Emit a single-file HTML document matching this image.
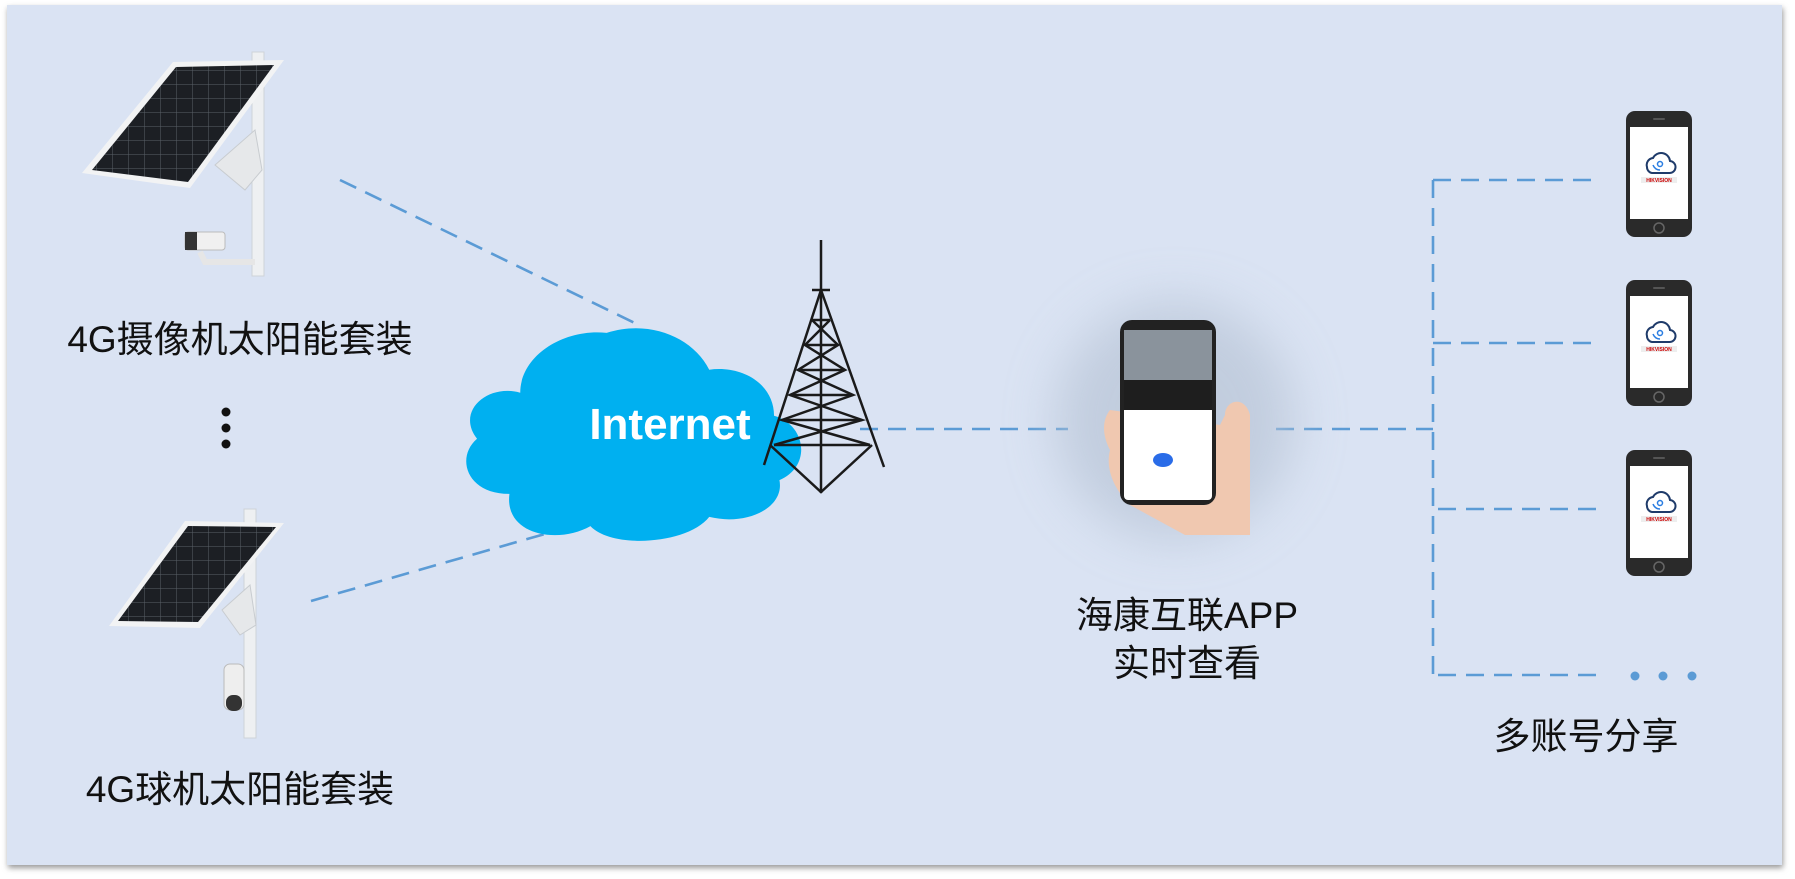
<!DOCTYPE html>
<html><head><meta charset="utf-8"><style>
html,body{margin:0;padding:0;background:#fff;}
svg{display:block;}
text{font-family:"Liberation Sans","Noto Sans CJK SC",sans-serif;}
</style></head><body>
<svg width="1795" height="879" viewBox="0 0 1795 879" xmlns="http://www.w3.org/2000/svg">
<defs>
<filter id="sh" x="-5%" y="-5%" width="110%" height="110%"><feGaussianBlur stdDeviation="3"/></filter>
<filter id="bl" x="-50%" y="-50%" width="200%" height="200%"><feGaussianBlur stdDeviation="25"/></filter>
<pattern id="cell" width="16" height="14" patternUnits="userSpaceOnUse"><rect width="16" height="14" fill="#1c1f24"/><path d="M0 0H16M0 0V14" stroke="#5a6068" stroke-width="1"/></pattern>
<g id="ph">
<rect x="0" y="0" width="66" height="126" rx="9" fill="#2a2a2a"/>
<rect x="4" y="16" width="58" height="92" fill="#fff"/>
<circle cx="33" cy="117" r="5" fill="none" stroke="#666" stroke-width="1.5"/>
<rect x="27" y="7" width="12" height="2" rx="1" fill="#555"/>
<path d="M21 56a7 7 0 0 1 6-9a9 9 0 0 1 17 3a6 6 0 0 1-1 12h-17a6 6 0 0 1-5-6z" fill="none" stroke="#1f3b6a" stroke-width="2"/>
<circle cx="34" cy="53" r="2.5" fill="none" stroke="#2a7de1" stroke-width="1.5"/>
<path d="M27 54q2 5 7 5" fill="none" stroke="#2a7de1" stroke-width="1.5"/>
<rect x="15" y="66" width="36" height="6" fill="#eee"/>
<text x="33" y="71" font-size="5" text-anchor="middle" fill="#c00" font-weight="bold">HIKVISION</text>
</g>
</defs>
<rect x="8" y="8" width="1775" height="860" fill="#999" filter="url(#sh)"/>
<rect x="7" y="5" width="1775" height="860" fill="#dae3f3"/>

<!-- solar kit 1 -->
<rect x="252" y="52" width="12" height="224" fill="#eef0f2" stroke="#cfd3d8"/>
<polygon points="215,165 255,130 262,170 245,190" fill="#e6e8ea" stroke="#c8ccd0"/>
<polygon points="82,173 190,188 284,60 173,62" fill="#f2f3f4"/>
<polygon points="92,170 188,182 274,65 176,67" fill="url(#cell)"/>
<rect x="185" y="232" width="40" height="18" rx="3" fill="#f0f0f0" stroke="#bbb"/>
<rect x="185" y="232" width="12" height="18" fill="#333"/>
<path d="M200 252l5 10h50" stroke="#e6e6e6" stroke-width="6" fill="none"/>

<!-- solar kit 2 -->
<rect x="244" y="509" width="12" height="229" fill="#eef0f2" stroke="#cfd3d8"/>
<polygon points="222,610 250,585 256,625 240,635" fill="#e6e8ea" stroke="#c8ccd0"/>
<polygon points="109,626 200,628 284,523 185,521" fill="#f2f3f4"/>
<polygon points="118,621 198,622 276,527 188,526" fill="url(#cell)"/>
<rect x="224" y="664" width="20" height="46" rx="6" fill="#eee" stroke="#bbb"/>
<rect x="226" y="695" width="16" height="16" rx="7" fill="#333"/>

<text x="240" y="352" font-size="37" text-anchor="middle" fill="#111">4G摄像机太阳能套装</text>
<text x="240" y="802" font-size="37" text-anchor="middle" fill="#111">4G球机太阳能套装</text>
<circle cx="226" cy="412" r="4.5" fill="#111"/><circle cx="226" cy="428" r="4.5" fill="#111"/><circle cx="226" cy="444" r="4.5" fill="#111"/>

<g stroke="#5b9bd5" stroke-width="2.6" stroke-dasharray="18,10" fill="none">
<line x1="340" y1="180" x2="641" y2="326"/>
<line x1="311" y1="601" x2="618" y2="513"/>
<line x1="860" y1="429" x2="1068" y2="429"/>
<line x1="1276" y1="429" x2="1433" y2="429"/>
<line x1="1433" y1="180" x2="1433" y2="675"/>
<line x1="1433" y1="180" x2="1593" y2="180"/>
<line x1="1433" y1="343" x2="1593" y2="343"/>
<line x1="1438" y1="509" x2="1603" y2="509"/>
<line x1="1438" y1="675" x2="1603" y2="675"/>
</g>
<circle cx="1635" cy="676" r="4.5" fill="#5b9bd5"/><circle cx="1663" cy="676" r="4.5" fill="#5b9bd5"/><circle cx="1692" cy="676" r="4.5" fill="#5b9bd5"/>

<!-- cloud -->
<g transform="translate(652,424) scale(1.08,0.92) translate(-652,-424)">
<path d="M520 500c-40 0-50-40-30-60c-20-30 10-60 40-50c0-40 40-70 80-65c40-15 80 5 95 40c30-5 60 15 60 50c30 10 35 55 5 70c5 30-30 50-65 40c-20 30-90 35-110 10c-30 20-80 10-75-35z" fill="#00b0f0"/>
</g>
<text x="670" y="439" font-size="44" font-weight="bold" text-anchor="middle" fill="#fff">Internet</text>

<!-- tower -->
<g stroke="#1a1a1a" stroke-width="2.5" fill="none">
<line x1="821" y1="240" x2="821" y2="493"/>
<line x1="821" y1="290" x2="764" y2="465"/>
<line x1="821" y1="290" x2="884" y2="467"/>
<line x1="812" y1="290" x2="830" y2="290"/>
<path d="M812 320L830 320M805 345L838 345M798 370L845 370M790 395L853 395M782 420L862 420M774 445L870 445"/>
<path d="M812 320L838 345L798 370L853 395L782 420L870 445M830 320L805 345L845 370L790 395L862 420L774 445"/>
<path d="M770 445L821 492L872 445"/>
</g>

<!-- phone in hand -->
<ellipse cx="1175" cy="420" rx="120" ry="120" fill="#b8c4d6" filter="url(#bl)" opacity="0.7"/>
<path d="M1110 410c-8 10-8 25 0 40c-5 20 5 40 20 55l55 30h65v-120c-5-20-25-15-25 0l-5 10z" fill="#f0c8b0"/>
<rect x="1120" y="320" width="96" height="185" rx="12" fill="#222"/>
<rect x="1124" y="330" width="88" height="170" rx="4" fill="#fff"/>
<rect x="1124" y="330" width="88" height="50" fill="#8a939c"/>
<rect x="1124" y="380" width="88" height="30" fill="#1e1e1e"/>
<ellipse cx="1163" cy="460" rx="10" ry="7" fill="#2a6ce8"/>
<path d="M1225 420c10 0 20 20 20 50v50h-30z" fill="#f0c8b0"/>

<text x="1187" y="628" font-size="37" text-anchor="middle" fill="#111">海康互联APP</text>
<text x="1187" y="676" font-size="37" text-anchor="middle" fill="#111">实时查看</text>
<text x="1586" y="749" font-size="37" text-anchor="middle" fill="#111">多账号分享</text>

<use href="#ph" x="1626" y="111"/>
<use href="#ph" x="1626" y="280"/>
<use href="#ph" x="1626" y="450"/>
</svg>
</body></html>
